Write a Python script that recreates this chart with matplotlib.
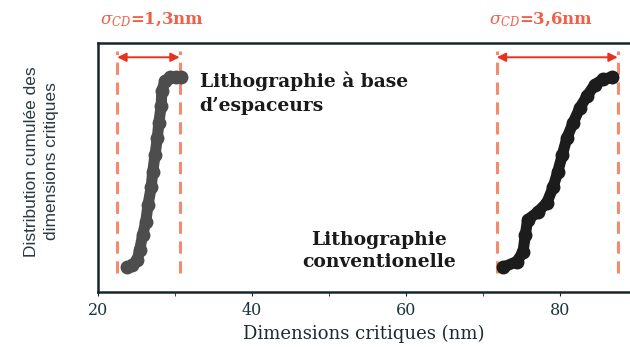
import matplotlib
matplotlib.use('Agg')
import matplotlib.pyplot as plt

plt.rcParams['mathtext.fontset'] = 'dejavuserif'
plt.rcParams['font.family'] = ['DejaVu Serif']

# cumulative CD distributions: dimension (nm) vs cumulated fraction
spacer_cd = [23.8, 24.4, 25.1, 25.4, 25.8, 26.2, 26.5, 26.9, 27.1, 27.4,
             27.7, 27.9, 28.2, 28.3, 28.7, 29.3, 30.1, 30.8]
spacer_cum = [0.0, 0.01, 0.04, 0.09, 0.17, 0.24, 0.33, 0.42, 0.50, 0.59,
              0.68, 0.76, 0.85, 0.93, 0.98, 1.0, 1.0, 1.0]

conv_cd = [72.6, 74.4, 75.2, 75.5, 75.8, 77.1, 78.3, 79.1, 79.7, 80.3,
           80.9, 81.7, 82.6, 83.5, 84.5, 85.6, 86.8]
conv_cum = [0.0, 0.03, 0.08, 0.17, 0.25, 0.29, 0.34, 0.42, 0.50, 0.59,
            0.68, 0.76, 0.84, 0.90, 0.96, 0.99, 1.0]

spacer_bounds = [22.5, 30.6]
conv_bounds = [71.8, 87.5]
sigma_labels = [r'$\sigma_{CD}$=1,3nm', r'$\sigma_{CD}$=3,6nm']

dash_col = '#f28c6c'
arrow_col = '#e8321e'
axis_col = '#15262c'

fig = plt.figure(figsize=(6.3, 3.47), dpi=100)
ax = fig.add_axes([0.1556, 0.1585, 0.8444, 0.7175])
ax.set_xlim(20, 89.1)
ax.set_ylim(-0.13, 1.18)

# dispersion bounds + arrows, sigma written above the frame
for bounds, lab, shift in zip([spacer_bounds, conv_bounds], sigma_labels, [0.5, -2.1]):
    ax.vlines(bounds, -0.03, 1.14, colors=dash_col, linestyles=(0, (4, 2.5)), lw=2.2)
    ax.annotate('', xy=(bounds[1], 1.105), xytext=(bounds[0], 1.105),
                arrowprops=dict(arrowstyle='<|-|>', color=arrow_col, lw=1.4,
                                mutation_scale=13, shrinkA=0, shrinkB=0))
    ax.text(sum(bounds) / 2 + shift, 1.30, lab, color='#f06048', fontsize=12,
            fontweight='bold', ha='center', va='center', clip_on=False)

ax.plot(spacer_cd, spacer_cum, '-o', color='#4d4d4d', lw=8, ms=9,
        solid_capstyle='round', solid_joinstyle='round')
ax.plot(conv_cd, conv_cum, '-o', color='#1c1c1c', lw=8, ms=9,
        solid_capstyle='round', solid_joinstyle='round')

ax.text(33.2, 0.915, "Lithographie à base\nd\u2019espaceurs", fontsize=13.5,
        fontweight='bold', color='#1a1a1a', ha='left', va='center',
        linespacing=1.45)
ax.text(56.5, 0.084, "Lithographie\nconventionelle", fontsize=13.5,
        fontweight='bold', color='#1a1a1a', ha='center', va='center',
        linespacing=1.3)

ax.set_xticks([20, 40, 60, 80])
ax.set_xticks([30, 50, 70], minor=True)
ax.set_yticks([])
ax.tick_params(axis='x', which='both', direction='out', length=3,
               color=axis_col, labelsize=11.5, labelcolor='#1d3540', pad=4)
ax.set_xlabel('Dimensions critiques (nm)', fontsize=13, color='#1d2a30',
              labelpad=4)

ax.spines['right'].set_visible(False)
for s in ['left', 'top', 'bottom']:
    ax.spines[s].set_color(axis_col)
    ax.spines[s].set_linewidth(1.8)

fig.text(0.066, 0.535, 'Distribution cumulée des\ndimensions critiques',
         rotation=90, ha='center', va='center', fontsize=12.5,
         color='#2a3a40', linespacing=1.45,
         family=['Liberation Sans Narrow', 'Liberation Sans', 'DejaVu Sans'])

fig.savefig('out.png', dpi=100)
